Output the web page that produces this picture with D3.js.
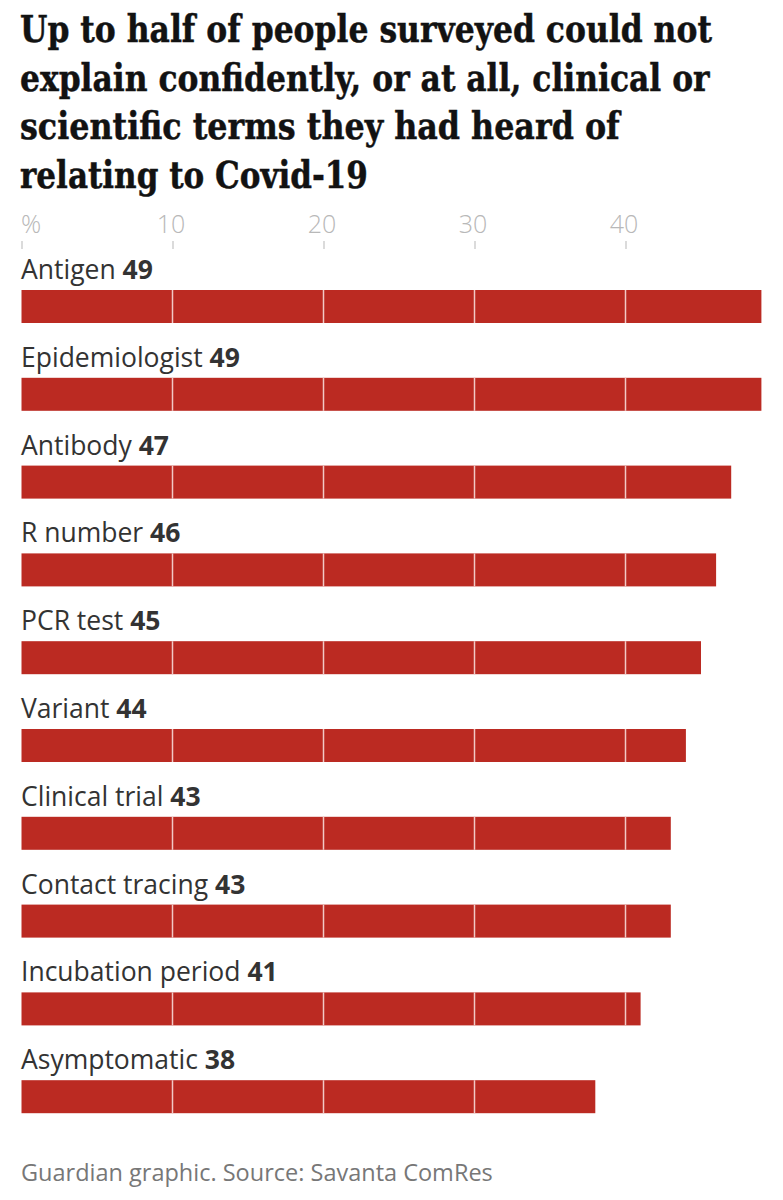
<!DOCTYPE html>
<html>
<head>
<meta charset="utf-8">
<script src="https://cdn.jsdelivr.net/npm/d3@7"></script>
<style>
  body { margin: 0; background: #fff; }
</style>
</head>
<body>
<script>
((() => {

// Data
let terms = ['Antigen', 'Epidemiologist', 'Antibody', 'R number', 'PCR test',
  'Variant', 'Clinical trial', 'Contact tracing', 'Incubation period', 'Asymptomatic'];
let values = [49, 49, 47, 46, 45, 44, 43, 43, 41, 38];
let tickValues = [0, 10, 20, 30, 40];
let tickLabels = ['%', '10', '20', '30', '40'];

let titleLines = [
  'Up to half of people surveyed could not',
  'explain confidently, or at all, clinical or',
  'scientific terms they had heard of',
  'relating to Covid-19'
];
// measured width of each title line in the reference
let titleWidths = [692, 690, 600, 348];
let source = 'Guardian graphic. Source: Savanta ComRes';

let width = 783,
  height = 1200;

let margin = { left: 21.5, right: 20 };

let svg = d3.select('body')
  .append('svg')
    .attr('width', width)
    .attr('height', height)
    .style('display', 'block');

// Title - squeeze each line horizontally to the width seen in the reference
svg.append('g')
  .selectAll('text')
  .data(titleLines)
  .enter()
  .append('text')
    .attr('x', 0)
    .attr('y', 0)
    .style('font-family', '"DejaVu Serif", serif')
    .style('font-weight', 'bold')
    .style('font-size', '38px')
    .style('fill', '#121212')
    .style('stroke', '#121212')
    .style('stroke-width', 0.5)
    .text(d => d)
    .attr('transform', function(d, i) {
      let w = this.getComputedTextLength();
      return `translate(20,${42 + i * 48.6}) scale(${titleWidths[i] / w},1)`;
    });

// Scales
let x = d3.scaleLinear()
  .domain([0, 40])
  .range([margin.left, 625.5]);

let y = d3.scaleBand()
  .domain(terms)
  .range([262, 262 + 87.8 * terms.length])
  .paddingInner(0)
  .paddingOuter(0);

// Axis on top
let axis = svg.append('g')
  .attr('transform', 'translate(0,241)')
  .call(d3.axisTop(x)
    .tickValues(tickValues)
    .tickSize(8)
    .tickFormat((d, i) => tickLabels[i]));

axis.select('.domain').remove();
axis.selectAll('.tick line')
  .attr('y1', 0)
  .attr('y2', 8)
  .attr('stroke', '#cfcfcf')
  .attr('stroke-width', 1.5);
axis.selectAll('.tick text')
  .attr('y', -8)
  .attr('dy', 0)
  .style('font-family', '"Open Sans", sans-serif')
  .style('font-weight', 300)
  .style('font-size', '25px')
  .style('fill', '#b8b8b8')
  .style('text-anchor', (d, i) => i === 0 ? 'start' : 'middle')
  .attr('dx', (d, i) => i === 0 ? -1 : -2);

// Rows
let row = svg.append('g')
  .selectAll('g')
  .data(terms)
  .enter()
  .append('g')
    .attr('transform', d => `translate(0,${y(d)})`);

let label = row.append('text')
  .attr('x', 21)
  .attr('y', 17)
  .style('font-family', '"Open Sans", sans-serif')
  .style('font-size', '26.5px')
  .style('fill', '#333');

label.append('tspan')
  .text(d => d + ' ');

label.append('tspan')
  .style('font-weight', 'bold')
  .text((d, i) => values[i]);

row.append('rect')
  .attr('x', x(0))
  .attr('y', 28)
  .attr('height', 33)
  .attr('width', (d, i) => x(values[i]) - x(0))
  .attr('fill', '#bb2a22');

// light grid lines over the bars
row.each(function(d, i) {
  d3.select(this)
    .selectAll('line')
    .data(tickValues.filter(t => t > 0 && t < values[i]))
    .enter()
    .append('line')
      .attr('x1', t => x(t))
      .attr('x2', t => x(t))
      .attr('y1', 28)
      .attr('y2', 61)
      .attr('stroke', '#f2c9c6')
      .attr('stroke-width', 1.5);
});

// Source
svg.append('text')
  .attr('x', 21)
  .attr('y', 1181)
  .style('font-family', '"Open Sans", sans-serif')
  .style('font-size', '23.5px')
  .style('fill', '#777')
  .text(source);

})());
</script>
</body>
</html>
